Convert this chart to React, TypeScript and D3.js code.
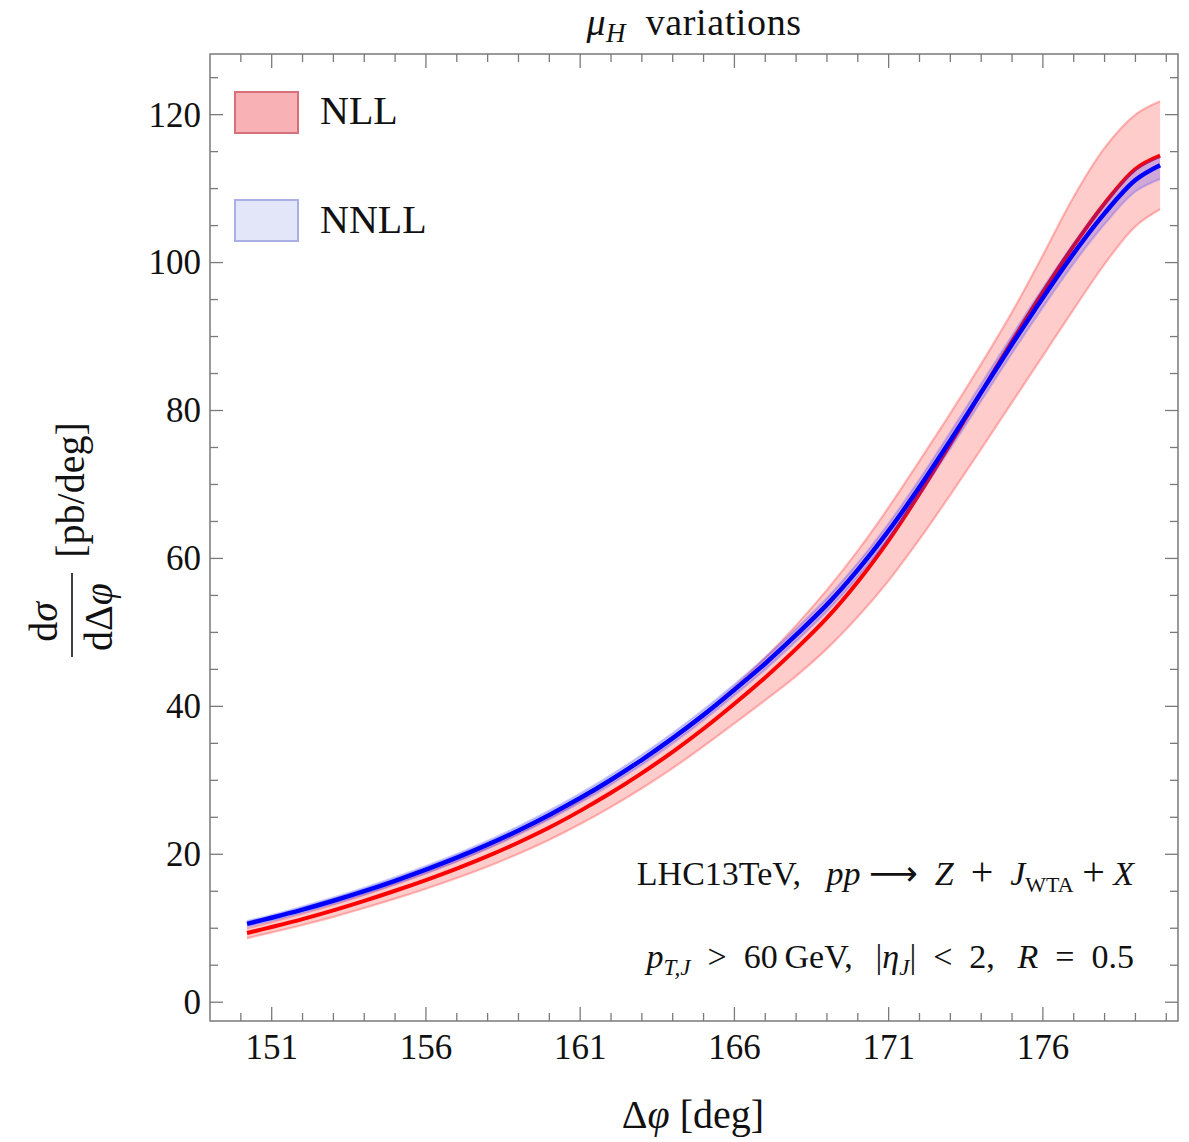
import React, { useEffect, useRef } from "react";
import * as d3 from "d3";

// Δφ grid (deg) and the curves
const phi = [
  150.2, 151, 152, 153, 154, 155, 156, 157, 158, 159, 160, 161, 162, 163, 164,
  165, 166, 167, 168, 169, 170, 171, 172, 173, 174, 175, 176, 177, 178, 179, 179.8
];

const nllCentral = [
  9.35, 10.17, 11.24, 12.42, 13.7, 15.07, 16.52, 18.07, 19.75, 21.6, 23.62, 25.87, 28.31, 30.98, 33.85,
  36.97, 40.35, 43.9, 47.77, 51.95, 56.85, 62.45, 68.75, 75.5, 82.45, 89.35, 96.0, 102.3, 108.0, 112.65, 114.45
];
const nllLow = [
  8.67, 9.44, 10.44, 11.54, 12.73, 14.0, 15.35, 16.79, 18.35, 20.08, 21.97, 24.09, 26.41, 28.93, 31.65,
  34.62, 37.7, 40.85, 44.1, 47.8, 52.1, 57.0, 62.6, 68.6, 74.8, 81.1, 87.4, 93.7, 99.8, 104.9, 107.2
];
const nllHigh = [
  10.0, 10.87, 11.99, 13.22, 14.55, 15.97, 17.47, 19.09, 20.85, 22.8, 24.92, 27.27, 29.86, 32.68, 35.7,
  39.02, 42.65, 46.6, 50.95, 55.75, 61.05, 66.9, 73.2, 79.6, 86.3, 93.3, 101.0, 108.9, 115.5, 120.0, 121.8
];

const nnllCentral = [
  10.6, 11.42, 12.52, 13.72, 15.02, 16.42, 17.92, 19.54, 21.3, 23.22, 25.32, 27.6, 30.08, 32.78, 35.7,
  38.85, 42.25, 45.8, 49.65, 53.75, 58.45, 63.75, 69.65, 75.95, 82.45, 88.95, 95.25, 101.25, 106.65, 111.15, 113.15
];
const nnllLow = [
  10.2, 11.0, 12.1, 13.28, 14.56, 15.94, 17.42, 19.02, 20.76, 22.66, 24.72, 26.97, 29.43, 32.1, 35.0,
  38.13, 41.5, 45.0, 48.8, 52.85, 57.5, 62.75, 68.6, 74.85, 81.3, 87.75, 93.95, 99.9, 105.2, 109.6, 111.3
];
const nnllHigh = [
  11.0, 11.8, 12.95, 14.16, 15.48, 16.9, 18.42, 20.06, 21.84, 23.78, 25.92, 28.23, 30.73, 33.46, 36.4,
  39.57, 43.0, 46.6, 50.5, 54.65, 59.4, 64.75, 70.7, 77.05, 83.6, 90.15, 96.55, 102.6, 108.05, 112.5, 114.25
];

const xMajorTicks = [151, 156, 161, 166, 171, 176];
const yMajorTicks = [0, 20, 40, 60, 80, 100, 120];

const WIDTH = 1189;
const HEIGHT = 1142;
const frame = { left: 210, right: 1178, top: 54, bottom: 1021 };
const FONT = "'Liberation Serif', 'DejaVu Serif', serif";
const EN = "\u2002"; // en space
const MID = "\u2005"; // four-per-em space
const THIN = "\u2006"; // six-per-em space

function App() {
  const svgRef = useRef<SVGSVGElement>(null);

  useEffect(() => {
    document.body.style.margin = "0";
    const svg = d3.select(svgRef.current);
    svg.selectAll("*").remove();

    const x = d3.scaleLinear().domain([149, 180.38]).range([frame.left, frame.right]);
    const y = d3.scaleLinear().domain([-2.54, 128.2]).range([frame.bottom, frame.top]);

    svg
      .append("clipPath")
      .attr("id", "plot-clip")
      .append("rect")
      .attr("x", frame.left)
      .attr("y", frame.top)
      .attr("width", frame.right - frame.left)
      .attr("height", frame.bottom - frame.top);

    const plot = svg.append("g").attr("clip-path", "url(#plot-clip)");

    const idx = d3.range(phi.length);
    const curve = d3.curveCatmullRom.alpha(0.5);
    const area = (lo: number[], hi: number[]) =>
      d3
        .area<number>()
        .x((i) => x(phi[i]))
        .y0((i) => y(lo[i]))
        .y1((i) => y(hi[i]))
        .curve(curve)(idx);
    const line = (vals: number[]) =>
      d3
        .line<number>()
        .x((i) => x(phi[i]))
        .y((i) => y(vals[i]))
        .curve(curve)(idx);

    // NLL band
    plot.append("path").attr("d", area(nllLow, nllHigh)).attr("fill", "rgba(255,0,0,0.2)");
    [nllLow, nllHigh].forEach((v) =>
      plot
        .append("path")
        .attr("d", line(v))
        .attr("fill", "none")
        .attr("stroke", "rgba(255,60,60,0.35)")
        .attr("stroke-width", 2.2)
    );
    plot
      .append("path")
      .attr("d", line(nllCentral))
      .attr("fill", "none")
      .attr("stroke", "#ff0000")
      .attr("stroke-width", 4);

    // NNLL band
    plot.append("path").attr("d", area(nnllLow, nnllHigh)).attr("fill", "rgba(40,40,255,0.22)");
    [nnllLow, nnllHigh].forEach((v) =>
      plot
        .append("path")
        .attr("d", line(v))
        .attr("fill", "none")
        .attr("stroke", "rgba(60,60,255,0.25)")
        .attr("stroke-width", 2)
    );
    plot
      .append("path")
      .attr("d", line(nnllCentral))
      .attr("fill", "none")
      .attr("stroke", "#0000ff")
      .attr("stroke-width", 4.5);

    // frame and ticks
    const axisColor = "#7a7a7a";
    svg
      .append("rect")
      .attr("x", frame.left)
      .attr("y", frame.top)
      .attr("width", frame.right - frame.left)
      .attr("height", frame.bottom - frame.top)
      .attr("fill", "none")
      .attr("stroke", axisColor)
      .attr("stroke-width", 1.5);

    const ticks = svg.append("g").attr("stroke", axisColor).attr("stroke-width", 1.3);
    d3.range(150, 181).forEach((v) => {
      const len = xMajorTicks.includes(v) ? 14 : 8;
      const px = x(v);
      ticks.append("line").attr("x1", px).attr("x2", px).attr("y1", frame.bottom).attr("y2", frame.bottom - len);
      ticks.append("line").attr("x1", px).attr("x2", px).attr("y1", frame.top).attr("y2", frame.top + len);
    });
    d3.range(0, 130, 5).forEach((v) => {
      const len = yMajorTicks.includes(v) ? 13 : 8;
      const py = y(v);
      ticks.append("line").attr("x1", frame.left).attr("x2", frame.left + len).attr("y1", py).attr("y2", py);
      ticks.append("line").attr("x1", frame.right).attr("x2", frame.right - len).attr("y1", py).attr("y2", py);
    });

    const labels = svg.append("g").attr("font-family", FONT).attr("fill", "#111");
    xMajorTicks.forEach((v) =>
      labels
        .append("text")
        .attr("x", x(v))
        .attr("y", 1059)
        .attr("text-anchor", "middle")
        .attr("font-size", 35)
        .text(v)
    );
    yMajorTicks.forEach((v) =>
      labels
        .append("text")
        .attr("x", 201)
        .attr("y", y(v))
        .attr("dy", "0.34em")
        .attr("text-anchor", "end")
        .attr("font-size", 35)
        .text(v)
    );

    // title
    const title = labels
      .append("text")
      .attr("x", 694)
      .attr("y", 35)
      .attr("text-anchor", "middle")
      .attr("font-size", 38)
      .attr("letter-spacing", 0.6);
    title.append("tspan").attr("font-style", "italic").text("μ");
    title.append("tspan").attr("font-style", "italic").attr("font-size", 27).attr("dy", 7).text("H");
    title.append("tspan").attr("dy", -7).text(EN + "variations");

    // x label
    const xl = labels
      .append("text")
      .attr("x", 693)
      .attr("y", 1128)
      .attr("text-anchor", "middle")
      .attr("font-size", 40);
    xl.append("tspan").text("Δ");
    xl.append("tspan").attr("font-style", "italic").text("φ");
    xl.append("tspan").text(" [deg]");

    // y label (rotated fraction)
    const yl = labels.append("g").attr("transform", "translate(72,540) rotate(-90)");
    yl.append("line")
      .attr("x1", -117)
      .attr("x2", -33)
      .attr("y1", 0)
      .attr("y2", 0)
      .attr("stroke", "#111")
      .attr("stroke-width", 1.6);
    const num = yl.append("text").attr("x", -82).attr("y", -15).attr("text-anchor", "middle").attr("font-size", 40);
    num.append("tspan").text("d");
    num.append("tspan").attr("font-style", "italic").text("σ");
    const den = yl.append("text").attr("x", -77).attr("y", 40).attr("text-anchor", "middle").attr("font-size", 40);
    den.append("tspan").text("dΔ");
    den.append("tspan").attr("font-style", "italic").text("φ");
    yl.append("text").attr("x", 50).attr("y", 12).attr("text-anchor", "middle").attr("font-size", 40).text("[pb/deg]");

    // legend
    const legend = [
      { label: "NLL", fill: "#f8b2b6", stroke: "#d8707a", top: 92, base: 124 },
      { label: "NNLL", fill: "#e3e5f8", stroke: "#aab0e6", top: 200, base: 233 }
    ];
    legend.forEach((d) => {
      svg
        .append("rect")
        .attr("x", 235)
        .attr("y", d.top)
        .attr("width", 63)
        .attr("height", 41)
        .attr("fill", d.fill)
        .attr("stroke", d.stroke)
        .attr("stroke-width", 2);
      labels.append("text").attr("x", 320).attr("y", d.base).attr("font-size", 40).text(d.label);
    });

    // annotations
    const a1 = labels
      .append("text")
      .attr("x", 1134)
      .attr("y", 885)
      .attr("text-anchor", "end")
      .attr("font-size", 34);
    a1.append("tspan").text("LHC13TeV," + EN + MID);
    a1.append("tspan").attr("font-style", "italic").text("pp");
    a1.append("tspan").text(MID);
    a1.append("tspan").attr("font-family", "'DejaVu Sans', sans-serif").attr("font-size", 34).text("⟶");
    a1.append("tspan").text(EN);
    a1.append("tspan").attr("font-style", "italic").text("Z");
    a1.append("tspan").text(EN);
    a1.append("tspan").attr("font-size", 40).text("+");
    a1.append("tspan").text(EN);
    a1.append("tspan").attr("font-style", "italic").text("J");
    a1.append("tspan").attr("font-size", 22).attr("dy", 7).text("WTA");
    a1.append("tspan").attr("dy", -7).text(MID);
    a1.append("tspan").attr("font-size", 40).text("+");
    a1.append("tspan").text(MID);
    a1.append("tspan").attr("font-style", "italic").text("X");

    const a2 = labels
      .append("text")
      .attr("x", 1134)
      .attr("y", 968)
      .attr("text-anchor", "end")
      .attr("font-size", 34);
    a2.append("tspan").attr("font-style", "italic").text("p");
    a2.append("tspan").attr("font-style", "italic").attr("font-size", 23).attr("dy", 7).text("T,J");
    a2.append("tspan").attr("dy", -7).text(EN + ">" + EN + "60\u2009GeV," + EN + THIN + "|");
    a2.append("tspan").attr("font-style", "italic").text("η");
    a2.append("tspan").attr("font-style", "italic").attr("font-size", 23).attr("dy", 7).text("J");
    a2.append("tspan").attr("dy", -7).text("|" + EN + "<" + EN + "2," + EN + THIN);
    a2.append("tspan").attr("font-style", "italic").text("R");
    a2.append("tspan").text(EN + "=" + EN + "0.5");
  }, []);

  return (
    <svg
      ref={svgRef}
      width={WIDTH}
      height={HEIGHT}
      style={{ display: "block", background: "#fff" }}
    />
  );
}

export default App;
